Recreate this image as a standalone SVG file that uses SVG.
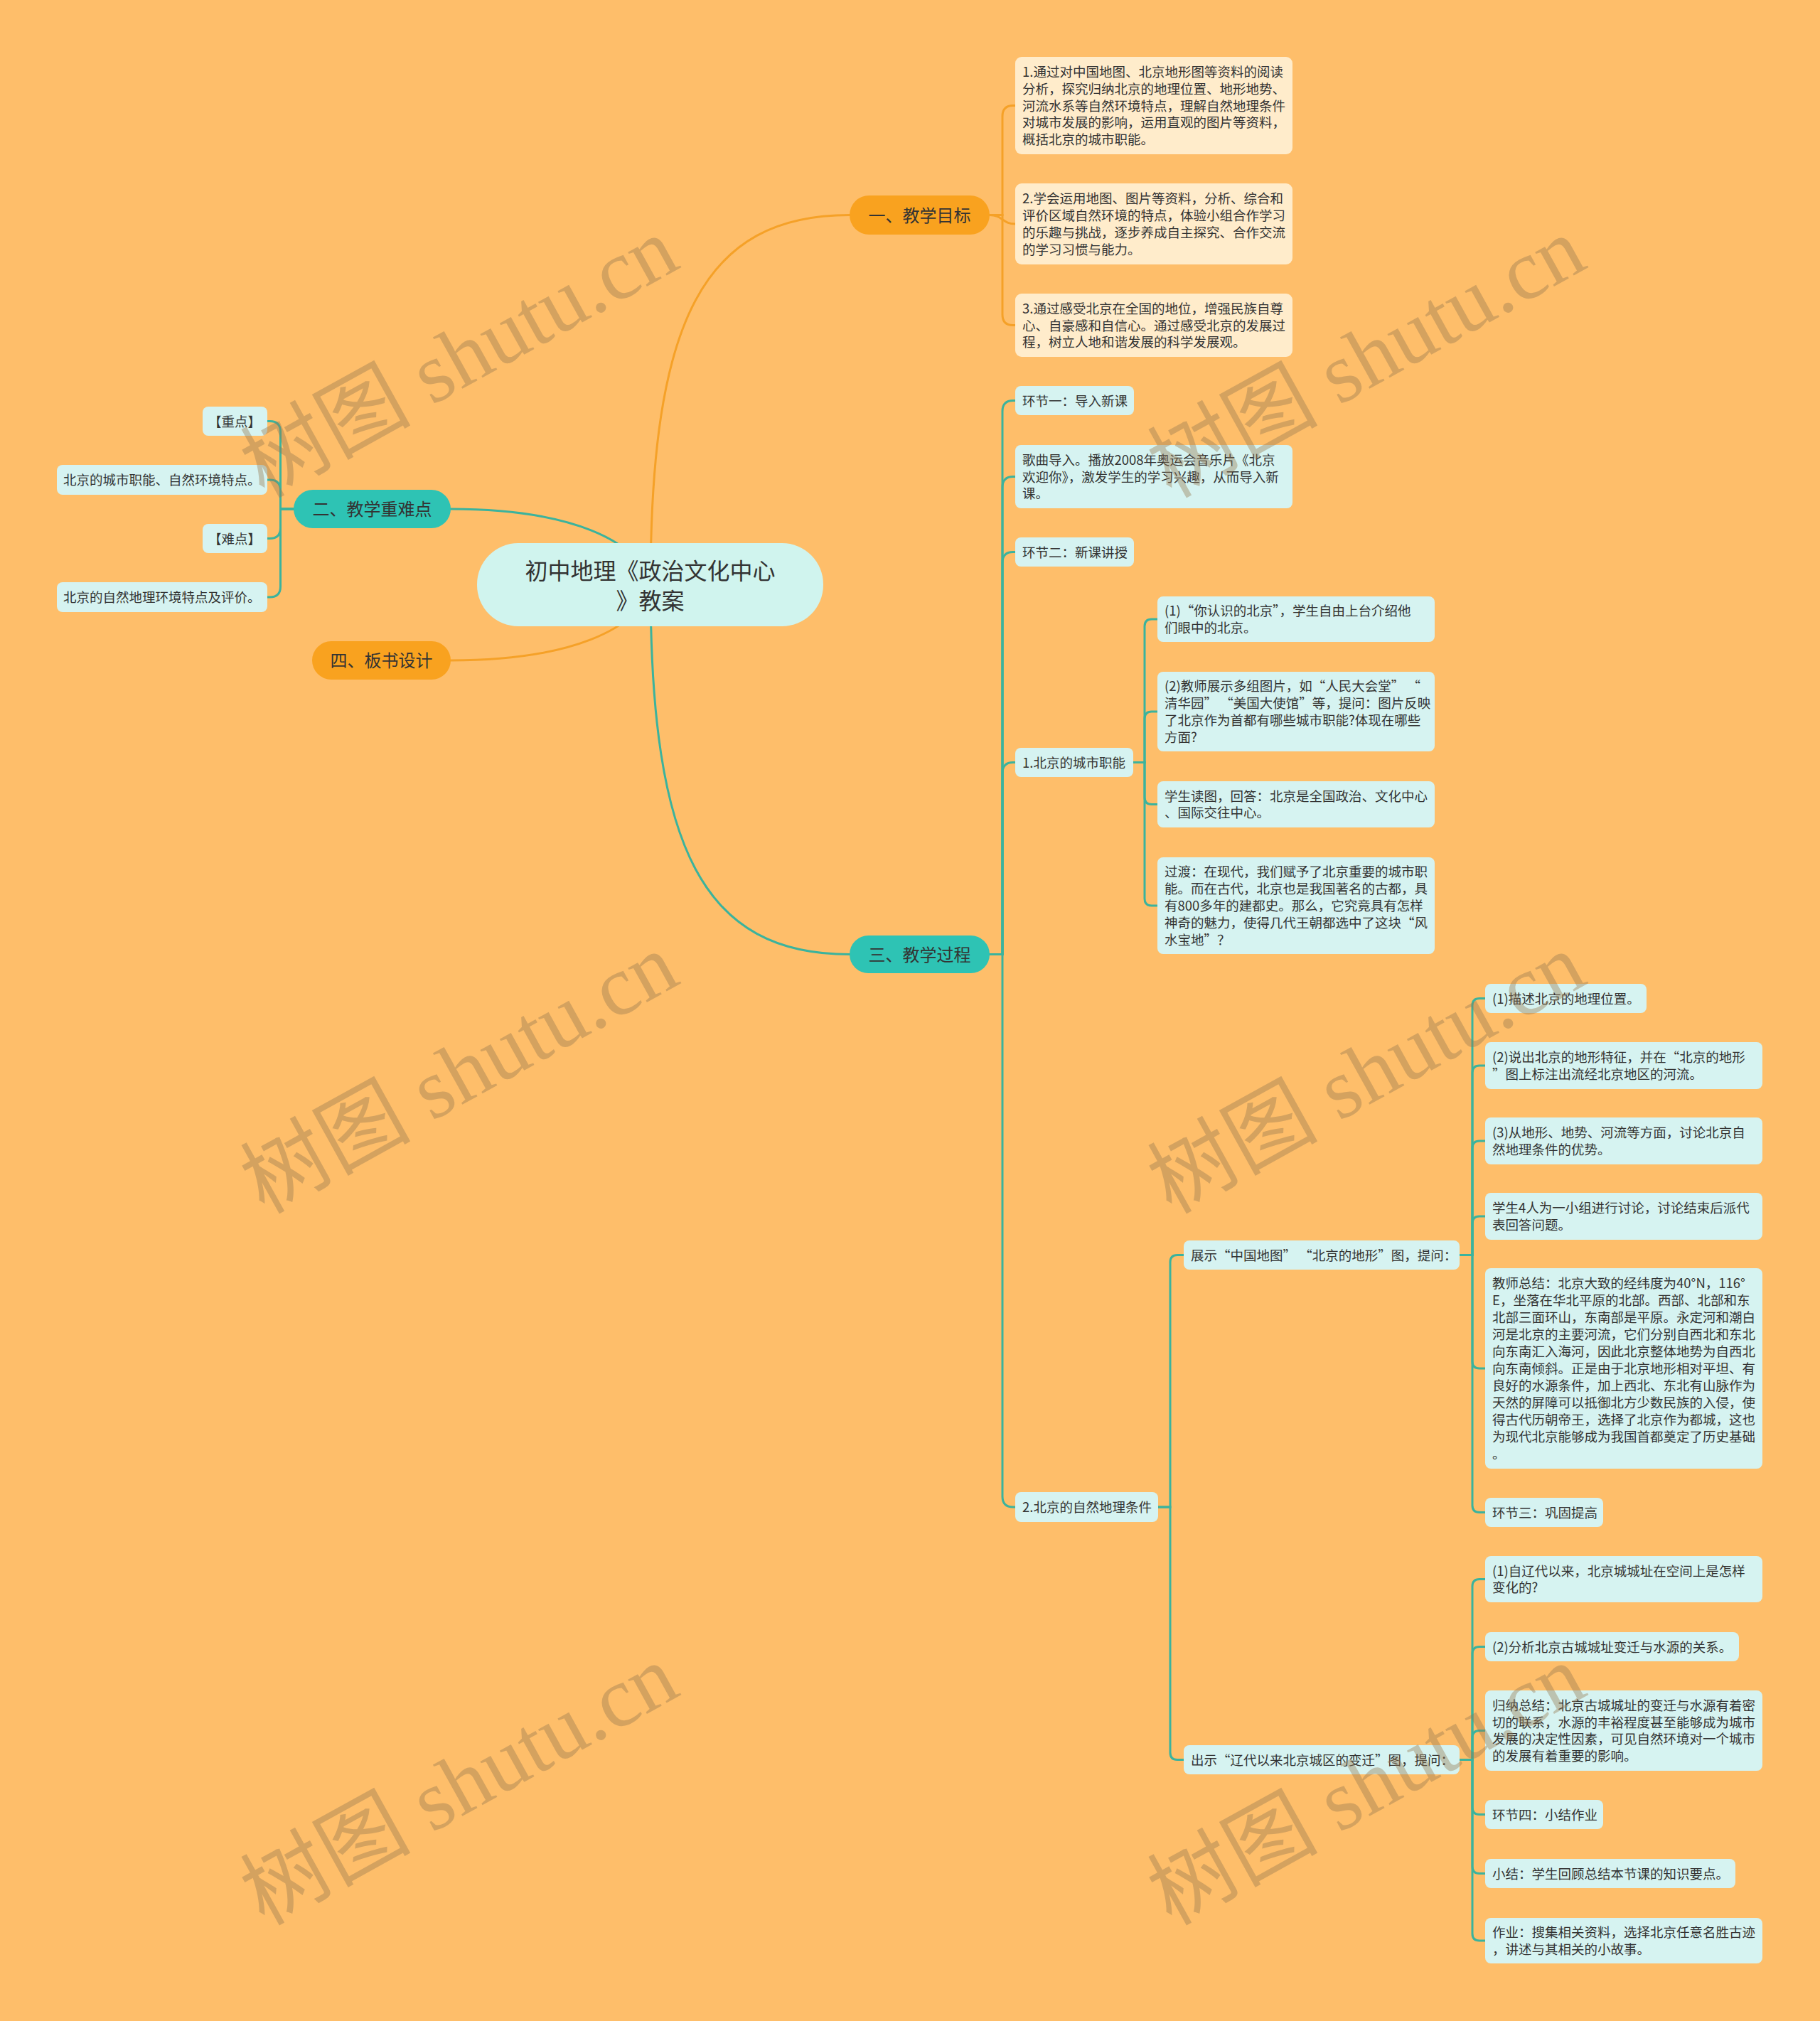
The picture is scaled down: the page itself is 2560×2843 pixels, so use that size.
<svg xmlns="http://www.w3.org/2000/svg" width="2560" height="2843" viewBox="0 0 2560 2843">
<style>
text{font-family:"Noto Sans CJK SC","Liberation Sans",sans-serif;fill:#333333}
.t{font-size:18.5px}
.b{font-size:24px;text-anchor:middle}
.r{font-size:32px;text-anchor:middle}
.lo{fill:#FFECCB}
.lt{fill:#D6F3F1}
.bo{fill:#F9A21F}
.bt{fill:#2EC3B4}
.co path{fill:none;stroke-width:3;stroke-linecap:round}
.o{stroke:#F5A128}
.g{stroke:#3BB39D}
.wm{font-family:"Liberation Serif","Noto Sans CJK SC",serif;font-size:120px;fill:#967850;fill-opacity:0.4;text-anchor:middle;dominant-baseline:central}
</style>
<rect width="2560" height="2843" fill="#FEBE6A"/>
<g id="connectors" class="co">
<path class="o" stroke-width="3.5" d="M915 823 C915 450 990 302.5 1195 302.5"/>
<path class="g" stroke-width="3.5" d="M915 823 C915 1195 990 1342.5 1195 1342.5"/>
<path class="g" stroke-width="3.5" d="M915 823 C900 760 800 716 634 716"/>
<path class="o" stroke-width="3.5" d="M915 823 C900 886 800 929 634 929"/>
<path class="o" d="M1392 302.5 H1410 V163.5 Q1410 148.5 1425 148.5 H1428"/>
<path class="o" d="M1392 302.5 C1410 302.5 1410 315 1428 315"/>
<path class="o" d="M1392 302.5 H1410 V442.5 Q1410 457.5 1425 457.5 H1428"/>
<path class="g" d="M413 716 H394.5 V607.5 Q394.5 592.5 379.5 592.5 H376"/>
<path class="g" d="M413 716 H394.5 V690 Q394.5 675 379.5 675 H376"/>
<path class="g" d="M413 716 H394.5 V742.5 Q394.5 757.5 379.5 757.5 H376"/>
<path class="g" d="M413 716 H394.5 V825 Q394.5 840 379.5 840 H376"/>
<path class="g" d="M1392 1342.5 H1410 V578.5 Q1410 563.5 1425 563.5 H1428"/>
<path class="g" d="M1392 1342.5 H1410 V685.5 Q1410 670.5 1425 670.5 H1428"/>
<path class="g" d="M1392 1342.5 H1410 V791.5 Q1410 776.5 1425 776.5 H1428"/>
<path class="g" d="M1392 1342.5 H1410 V1087.5 Q1410 1072.5 1425 1072.5 H1428"/>
<path class="g" d="M1392 1342.5 H1410 V2105 Q1410 2120 1425 2120 H1428"/>
<path class="g" d="M1594 1072.5 H1610 V881 Q1610 871 1620 871 H1628"/>
<path class="g" d="M1594 1072.5 H1610 V1011 Q1610 1001 1620 1001 H1628"/>
<path class="g" d="M1594 1072.5 H1610 V1121.5 Q1610 1131.5 1620 1131.5 H1628"/>
<path class="g" d="M1594 1072.5 H1610 V1264 Q1610 1274 1620 1274 H1628"/>
<path class="g" d="M1629 2120 H1646 V1775.5 Q1646 1765.5 1656 1765.5 H1665"/>
<path class="g" d="M1629 2120 H1646 V2465.5 Q1646 2475.5 1656 2475.5 H1665"/>
<path class="g" d="M2053 1765.5 H2071 V1414.5 Q2071 1404.5 2081 1404.5 H2089"/>
<path class="g" d="M2053 1765.5 H2071 V1509 Q2071 1499 2081 1499 H2089"/>
<path class="g" d="M2053 1765.5 H2071 V1615 Q2071 1605 2081 1605 H2089"/>
<path class="g" d="M2053 1765.5 H2071 V1721 Q2071 1711 2081 1711 H2089"/>
<path class="g" d="M2053 1765.5 H2071 V1915 Q2071 1925 2081 1925 H2089"/>
<path class="g" d="M2053 1765.5 H2071 V2117.5 Q2071 2127.5 2081 2127.5 H2089"/>
<path class="g" d="M2053 2475.5 H2071 V2231.5 Q2071 2221.5 2081 2221.5 H2089"/>
<path class="g" d="M2053 2475.5 H2071 V2326.5 Q2071 2316.5 2081 2316.5 H2089"/>
<path class="g" d="M2053 2475.5 H2071 V2444.5 Q2071 2434.5 2081 2434.5 H2089"/>
<path class="g" d="M2053 2475.5 H2071 V2542.5 Q2071 2552.5 2081 2552.5 H2089"/>
<path class="g" d="M2053 2475.5 H2071 V2625.5 Q2071 2635.5 2081 2635.5 H2089"/>
<path class="g" d="M2053 2475.5 H2071 V2720 Q2071 2730 2081 2730 H2089"/>
</g>

<g id="root"><rect x="671" y="764" width="487" height="117" rx="58" fill="#D0F4EE"/>
<text class="r" x="914.5" y="815">初中地理《政治文化中心</text><text class="r" x="914.5" y="857">》教案</text></g>

<g id="b1"><rect class="bo" x="1195" y="275" width="197" height="55" rx="27.5"/><text class="b" x="1293.5" y="311.5">一、教学目标</text></g>
<g id="b2"><rect class="bt" x="413" y="689" width="221" height="54" rx="27"/><text class="b" x="523.5" y="725">二、教学重难点</text></g>
<g id="b4"><rect class="bo" x="439" y="902" width="195" height="54" rx="27"/><text class="b" x="536.5" y="938">四、板书设计</text></g>
<g id="b3"><rect class="bt" x="1195" y="1316" width="197" height="53" rx="26.5"/><text class="b" x="1293.5" y="1351.5">三、教学过程</text></g>

<g id="n1a"><rect class="lo" x="1428" y="80" width="390" height="137" rx="9"/><text class="t" x="1438" y="107.9"><tspan>1.通过对中国地图、北京地形图等资料的阅读</tspan><tspan x="1438" dy="23.8">分析，探究归纳北京的地理位置、地形地势、</tspan><tspan x="1438" dy="23.8">河流水系等自然环境特点，理解自然地理条件</tspan><tspan x="1438" dy="23.8">对城市发展的影响，运用直观的图片等资料，</tspan><tspan x="1438" dy="23.8">概括北京的城市职能。</tspan></text></g>
<g id="n1b"><rect class="lo" x="1428" y="258" width="390" height="114" rx="9"/><text class="t" x="1438" y="286.3"><tspan>2.学会运用地图、图片等资料，分析、综合和</tspan><tspan x="1438" dy="23.8">评价区域自然环境的特点，体验小组合作学习</tspan><tspan x="1438" dy="23.8">的乐趣与挑战，逐步养成自主探究、合作交流</tspan><tspan x="1438" dy="23.8">的学习习惯与能力。</tspan></text></g>
<g id="n1c"><rect class="lo" x="1428" y="413" width="390" height="89" rx="9"/><text class="t" x="1438" y="440.7"><tspan>3.通过感受北京在全国的地位，增强民族自尊</tspan><tspan x="1438" dy="23.8">心、自豪感和自信心。通过感受北京的发展过</tspan><tspan x="1438" dy="23.8">程，树立人地和谐发展的科学发展观。</tspan></text></g>

<g id="n2a"><rect class="lt" x="285" y="572" width="91" height="41" rx="8"/><text class="t" x="293" y="599.5">【重点】</text></g>
<g id="n2b"><rect class="lt" x="80" y="654" width="296" height="42" rx="8"/><text class="t" x="89" y="682">北京的城市职能、自然环境特点。</text></g>
<g id="n2c"><rect class="lt" x="285" y="737" width="91" height="41" rx="8"/><text class="t" x="293" y="764.5">【难点】</text></g>
<g id="n2d"><rect class="lt" x="80" y="819" width="296" height="42" rx="8"/><text class="t" x="89" y="847">北京的自然地理环境特点及评价。</text></g>

<g id="n3a"><rect class="lt" x="1428" y="543" width="167" height="41" rx="8"/><text class="t" x="1438" y="570.5">环节一：导入新课</text></g>
<g id="n3b"><rect class="lt" x="1428" y="626" width="390" height="89" rx="8"/><text class="t" x="1438" y="653.7"><tspan>歌曲导入。播放2008年奥运会音乐片《北京</tspan><tspan x="1438" dy="23.8">欢迎你》，激发学生的学习兴趣，从而导入新</tspan><tspan x="1438" dy="23.8">课。</tspan></text></g>
<g id="n3c"><rect class="lt" x="1428" y="756" width="167" height="41" rx="8"/><text class="t" x="1438" y="783.5">环节二：新课讲授</text></g>
<g id="n3d"><rect class="lt" x="1428" y="1052" width="166" height="41" rx="8"/><text class="t" x="1438" y="1079.5">1.北京的城市职能</text></g>
<g id="n3e"><rect class="lt" x="1428" y="2099" width="201" height="42" rx="8"/><text class="t" x="1438" y="2127">2.北京的自然地理条件</text></g>

<g id="d1"><rect class="lt" x="1628" y="839" width="390" height="64" rx="8"/><text class="t" x="1638" y="866.1"><tspan>(1)“你认识的北京”，学生自由上台介绍他</tspan><tspan x="1638" dy="23.8">们眼中的北京。</tspan></text></g>
<g id="d2"><rect class="lt" x="1628" y="945" width="390" height="112" rx="8"/><text class="t" x="1638" y="972.3"><tspan>(2)教师展示多组图片，如“人民大会堂” “</tspan><tspan x="1638" dy="23.8">清华园” “美国大使馆”等，提问：图片反映</tspan><tspan x="1638" dy="23.8">了北京作为首都有哪些城市职能?体现在哪些</tspan><tspan x="1638" dy="23.8">方面?</tspan></text></g>
<g id="d3"><rect class="lt" x="1628" y="1099" width="390" height="65" rx="8"/><text class="t" x="1638" y="1126.6"><tspan>学生读图，回答：北京是全国政治、文化中心</tspan><tspan x="1638" dy="23.8">、国际交往中心。</tspan></text></g>
<g id="d4"><rect class="lt" x="1628" y="1206" width="390" height="136" rx="8"/><text class="t" x="1638" y="1233.4"><tspan>过渡：在现代，我们赋予了北京重要的城市职</tspan><tspan x="1638" dy="23.8">能。而在古代，北京也是我国著名的古都，具</tspan><tspan x="1638" dy="23.8">有800多年的建都史。那么，它究竟具有怎样</tspan><tspan x="1638" dy="23.8">神奇的魅力，使得几代王朝都选中了这块“风</tspan><tspan x="1638" dy="23.8">水宝地”？</tspan></text></g>

<g id="e1"><rect class="lt" x="1665" y="1745" width="388" height="41" rx="8"/><text class="t" x="1675" y="1772.5">展示“中国地图” “北京的地形”图，提问：</text></g>
<g id="e2"><rect class="lt" x="1665" y="2455" width="388" height="41" rx="8"/><text class="t" x="1675" y="2482.5">出示“辽代以来北京城区的变迁”图，提问：</text></g>

<g id="fa"><rect class="lt" x="2089" y="1384" width="227" height="41" rx="8"/><text class="t" x="2099" y="1411.5">(1)描述北京的地理位置。</text></g>
<g id="fb"><rect class="lt" x="2089" y="1466" width="390" height="66" rx="8"/><text class="t" x="2099" y="1494.1"><tspan>(2)说出北京的地形特征，并在“北京的地形</tspan><tspan x="2099" dy="23.8">”图上标注出流经北京地区的河流。</tspan></text></g>
<g id="fc"><rect class="lt" x="2089" y="1572" width="390" height="66" rx="8"/><text class="t" x="2099" y="1600.1"><tspan>(3)从地形、地势、河流等方面，讨论北京自</tspan><tspan x="2099" dy="23.8">然地理条件的优势。</tspan></text></g>
<g id="fd"><rect class="lt" x="2089" y="1678" width="390" height="66" rx="8"/><text class="t" x="2099" y="1706.1"><tspan>学生4人为一小组进行讨论，讨论结束后派代</tspan><tspan x="2099" dy="23.8">表回答问题。</tspan></text></g>
<g id="fe"><rect class="lt" x="2089" y="1784" width="390" height="282" rx="8"/><text class="t" x="2099" y="1812"><tspan>教师总结：北京大致的经纬度为40°N，116°</tspan><tspan x="2099" dy="24">E，坐落在华北平原的北部。西部、北部和东</tspan><tspan x="2099" dy="24">北部三面环山，东南部是平原。永定河和潮白</tspan><tspan x="2099" dy="24">河是北京的主要河流，它们分别自西北和东北</tspan><tspan x="2099" dy="24">向东南汇入海河，因此北京整体地势为自西北</tspan><tspan x="2099" dy="24">向东南倾斜。正是由于北京地形相对平坦、有</tspan><tspan x="2099" dy="24">良好的水源条件，加上西北、东北有山脉作为</tspan><tspan x="2099" dy="24">天然的屏障可以抵御北方少数民族的入侵，使</tspan><tspan x="2099" dy="24">得古代历朝帝王，选择了北京作为都城，这也</tspan><tspan x="2099" dy="24">为现代北京能够成为我国首都奠定了历史基础</tspan><tspan x="2099" dy="24">。</tspan></text></g>
<g id="ff"><rect class="lt" x="2089" y="2107" width="166" height="41" rx="8"/><text class="t" x="2099" y="2134.5">环节三：巩固提高</text></g>

<g id="ga"><rect class="lt" x="2089" y="2189" width="390" height="65" rx="8"/><text class="t" x="2099" y="2216.6"><tspan>(1)自辽代以来，北京城城址在空间上是怎样</tspan><tspan x="2099" dy="23.8">变化的?</tspan></text></g>
<g id="gb"><rect class="lt" x="2089" y="2296" width="357" height="41" rx="8"/><text class="t" x="2099" y="2323.5">(2)分析北京古城城址变迁与水源的关系。</text></g>
<g id="gc"><rect class="lt" x="2089" y="2378" width="390" height="113" rx="8"/><text class="t" x="2099" y="2405.8"><tspan>归纳总结：北京古城城址的变迁与水源有着密</tspan><tspan x="2099" dy="23.8">切的联系，水源的丰裕程度甚至能够成为城市</tspan><tspan x="2099" dy="23.8">发展的决定性因素，可见自然环境对一个城市</tspan><tspan x="2099" dy="23.8">的发展有着重要的影响。</tspan></text></g>
<g id="gd"><rect class="lt" x="2089" y="2532" width="166" height="41" rx="8"/><text class="t" x="2099" y="2559.5">环节四：小结作业</text></g>
<g id="ge"><rect class="lt" x="2089" y="2615" width="352" height="41" rx="8"/><text class="t" x="2099" y="2642.5">小结：学生回顾总结本节课的知识要点。</text></g>
<g id="gf"><rect class="lt" x="2089" y="2698" width="390" height="64" rx="8"/><text class="t" x="2099" y="2725.1"><tspan>作业：搜集相关资料，选择北京任意名胜古迹</tspan><tspan x="2099" dy="23.8">，讲述与其相关的小故事。</tspan></text></g>

<g id="watermark">
<text class="wm" x="646" y="503" transform="rotate(-29 646 503)">树图 shutu.cn</text>
<text class="wm" x="1922" y="503" transform="rotate(-29 1922 503)">树图 shutu.cn</text>
<text class="wm" x="646" y="1510" transform="rotate(-29 646 1510)">树图 shutu.cn</text>
<text class="wm" x="1922" y="1510" transform="rotate(-29 1922 1510)">树图 shutu.cn</text>
<text class="wm" x="646" y="2511" transform="rotate(-29 646 2511)">树图 shutu.cn</text>
<text class="wm" x="1922" y="2511" transform="rotate(-29 1922 2511)">树图 shutu.cn</text>
</g>
</svg>
